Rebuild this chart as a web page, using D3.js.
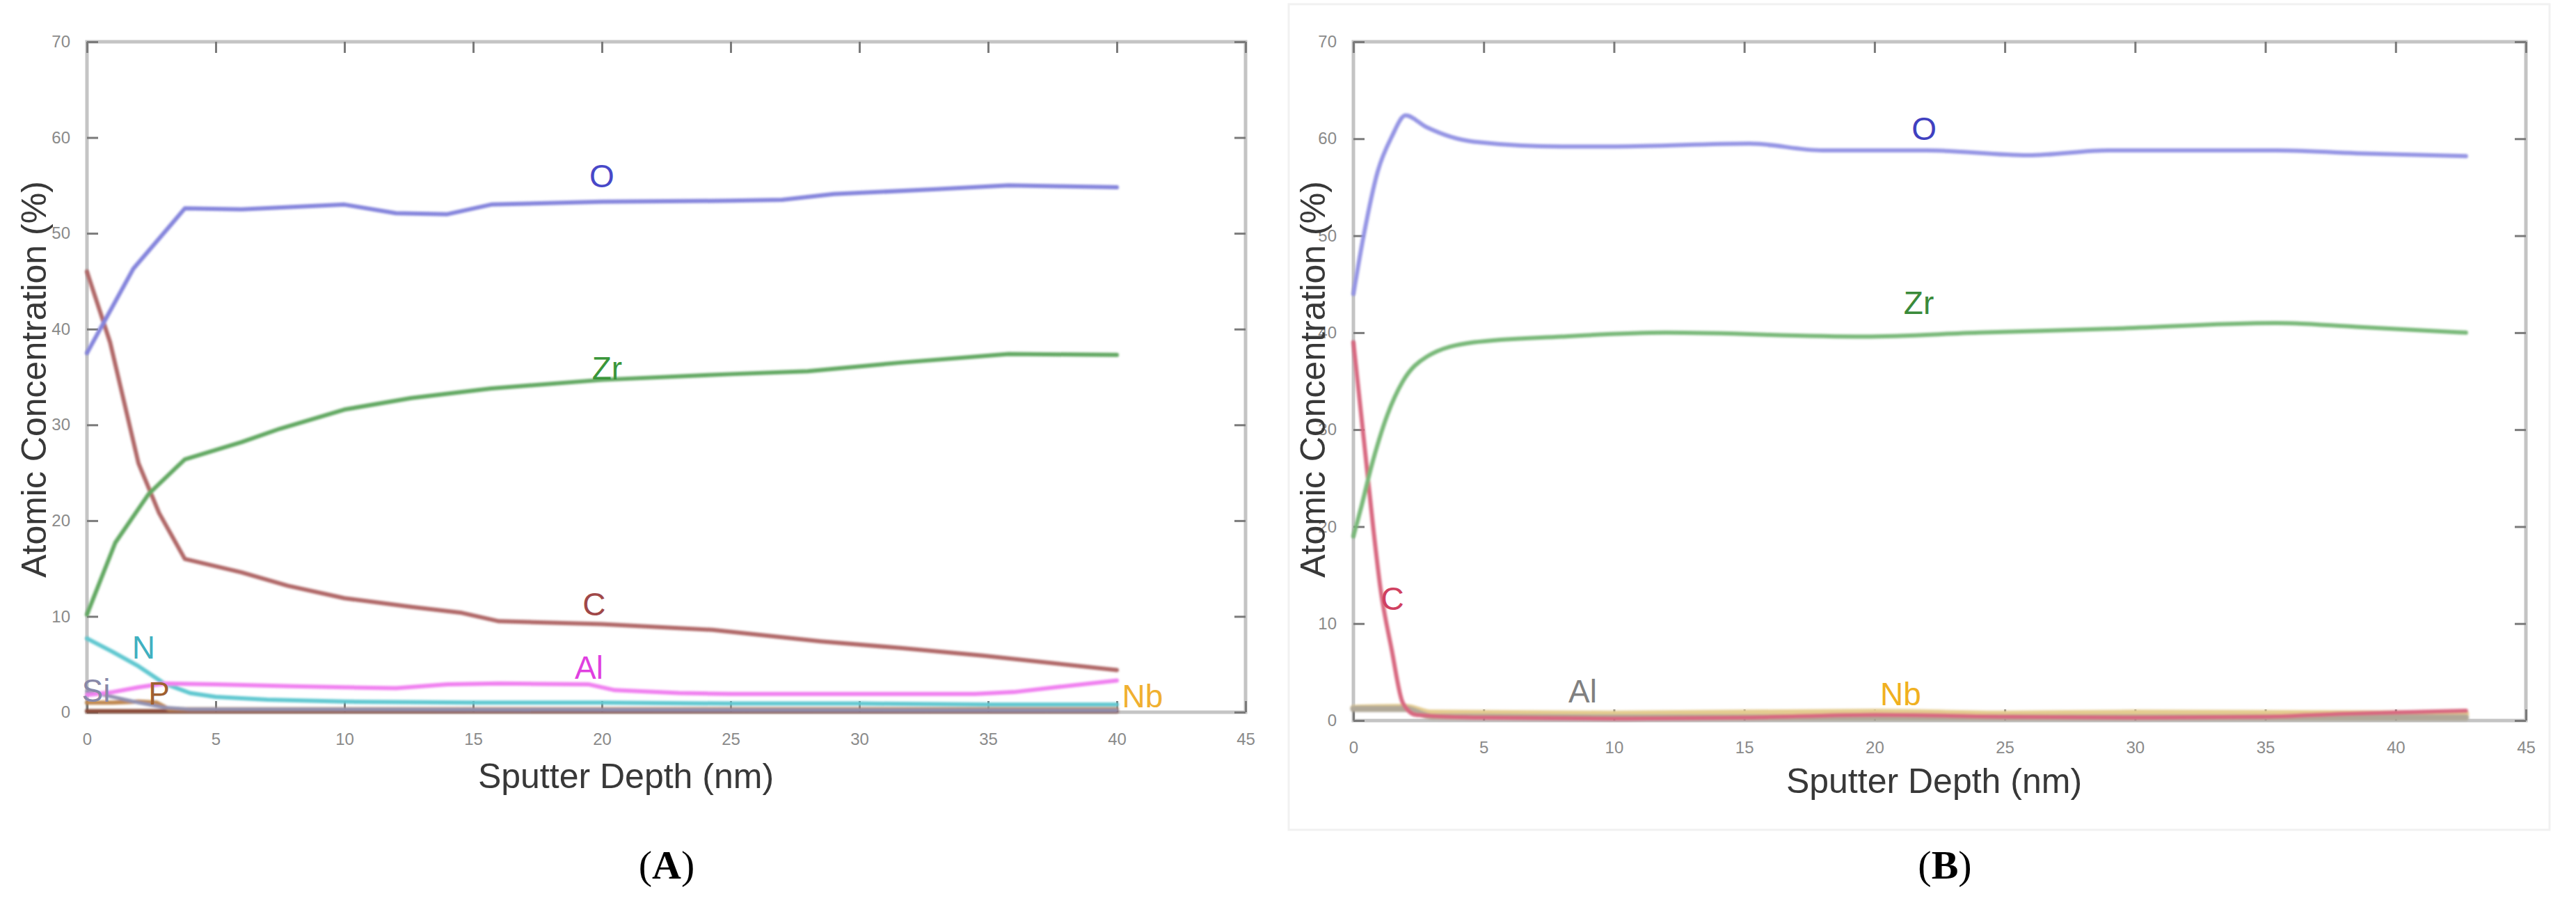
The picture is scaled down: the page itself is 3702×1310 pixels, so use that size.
<!DOCTYPE html>
<html><head><meta charset="utf-8">
<script src="https://cdn.jsdelivr.net/npm/d3@7"></script>
<style>body{margin:0;background:#fff}svg{display:block}</style>
</head><body><svg id="chart" width="3702" height="1310"></svg>
<script>
// ---------- DATA ----------
const xTickValues = [0, 5, 10, 15, 20, 25, 30, 35, 40, 45];
const yTickValues = [0, 10, 20, 30, 40, 50, 60, 70];
const xTitle = "Sputter Depth (nm)";
const yTitle = "Atomic Concentration (%)";
const captions = ["(A)", "(B)"];

// Panel A
const A_O_depth  = [0, 1.8, 3.8, 6, 10, 12, 14, 15.7, 20, 25, 27, 29, 33, 35.8, 40];
const A_O_value  = [37.5, 46.3, 52.6, 52.5, 53, 52.1, 52.0, 53, 53.3, 53.4, 53.5, 54.1, 54.6, 55, 54.8];
const A_Zr_depth = [0, 1.1, 2.4, 3.8, 6, 7.5, 10, 12.6, 15.7, 20, 25, 28, 31.6, 35.8, 40];
const A_Zr_value = [10.2, 17.7, 22.8, 26.4, 28.2, 29.6, 31.6, 32.8, 33.8, 34.7, 35.3, 35.6, 36.5, 37.4, 37.3];
const A_C_depth  = [0, 0.9, 2, 2.8, 3.8, 6, 7.8, 10, 12.6, 14.5, 16, 20, 24.3, 28.5, 31.6, 34.8, 40];
const A_C_value  = [46, 38.6, 26, 20.8, 16, 14.6, 13.2, 11.9, 11, 10.4, 9.5, 9.2, 8.6, 7.4, 6.7, 5.9, 4.4];
const A_Al_depth = [0, 1, 2, 3, 5, 8, 10, 12, 14, 16, 19.5, 20.5, 23, 25, 30, 34.5, 36, 37.6, 40];
const A_Al_value = [1.8, 2.1, 2.6, 3.0, 2.9, 2.7, 2.6, 2.5, 2.9, 3.0, 2.9, 2.3, 2.0, 1.9, 1.9, 1.9, 2.1, 2.6, 3.3];
const A_N_depth  = [0, 1, 2, 3, 4, 5, 7, 10, 15, 20, 25, 30, 35, 40];
const A_N_value  = [7.7, 6.3, 4.8, 3.0, 2.0, 1.6, 1.3, 1.1, 1.0, 1.0, 0.9, 0.9, 0.8, 0.8];
const A_Si_depth = [0, 1, 2, 3, 4, 40];
const A_Si_value = [2.2, 1.6, 1.0, 0.5, 0.3, 0.2];
const A_P_depth  = [0, 1, 2, 2.7, 3.2, 40];
const A_P_value  = [1.0, 1.0, 1.1, 1.0, 0.3, 0.3];
const A_Nb_depth = [0, 10, 20, 30, 40];
const A_Nb_value = [0.1, 0.1, 0.1, 0.1, 0.1];

// Panel B
const B_O_depth  = [0, 0.4, 0.93, 1.47, 2.0, 2.8, 4.6, 8, 10.1, 15.2, 18, 22, 25.9, 29, 35.4, 38.5, 42.7];
const B_O_value  = [44, 50.1, 56.6, 60.2, 62.4, 61.2, 59.7, 59.2, 59.2, 59.5, 58.8, 58.8, 58.3, 58.8, 58.8, 58.5, 58.2];
const B_Zr_depth = [0, 0.3, 0.67, 1.3, 1.9, 2.8, 4.6, 8, 12, 19.6, 24, 29, 35.4, 38.5, 42.7];
const B_Zr_value = [19, 22, 26, 31.5, 35, 37.5, 39, 39.6, 40, 39.6, 40, 40.4, 41, 40.6, 40];
const B_C_depth  = [0, 0.4, 0.76, 1.03, 1.47, 1.9, 2.4, 5, 10, 15, 20, 25, 30, 35, 38, 42.7];
const B_C_value  = [39, 29, 19.9, 13.8, 7.3, 1.8, 0.6, 0.3, 0.2, 0.3, 0.6, 0.4, 0.3, 0.4, 0.7, 1.0];
const B_Al_depth = [0, 2, 3, 10, 20, 30, 42.7];
const B_Al_value = [1.2, 1.2, 0.4, 0.3, 0.3, 0.3, 0.3];
const B_Nb_depth = [0, 2, 3, 10, 20, 25, 30, 42.7];
const B_Nb_value = [1.3, 1.4, 0.8, 0.7, 0.9, 0.7, 0.8, 0.7];

// ---------- STYLE / LAYOUT ----------
const seriesStyle = {
  A: {
    Nb: {line: "#8a4a38", w: 6}, P: {line: "#c08850", w: 6}, Si: {line: "#9090b0", w: 5},
    N: {line: "#60c8d0", w: 6}, Al: {line: "#f080f0", w: 6}, C: {line: "#b06868", w: 6},
    Zr: {line: "#62a862", w: 6}, O: {line: "#8484dc", w: 6}
  },
  B: {
    Nb: {line: "#e4cc90", w: 9}, Al: {line: "#b0a898", w: 9}, C: {line: "#d86880", w: 6},
    Zr: {line: "#78b878", w: 6}, O: {line: "#9494e4", w: 6}
  }
};
const labelStyle = {
  A: [
    {t: "O",  d: 20.0, v: 56.0, c: "#4848c8"},
    {t: "Zr", d: 20.2, v: 35.9, c: "#3a963a"},
    {t: "C",  d: 19.7, v: 11.3, c: "#a04848"},
    {t: "Al", d: 19.5, v: 4.65, c: "#e040e0"},
    {t: "N",  d: 2.2,  v: 6.8,  c: "#40b0c0"},
    {t: "Si", d: 0.35, v: 2.25, c: "#8888a8"},
    {t: "P",  d: 2.8,  v: 1.96, c: "#a06030"},
    {t: "Nb", d: 41.0, v: 1.7,  c: "#f0b030"}
  ],
  B: [
    {t: "O",  d: 21.9, v: 61.0, c: "#4040c0"},
    {t: "Zr", d: 21.7, v: 43.1, c: "#3a8a3a"},
    {t: "C",  d: 1.5,  v: 12.6, c: "#d04060"},
    {t: "Al", d: 8.8,  v: 3.0,  c: "#808080"},
    {t: "Nb", d: 21.0, v: 2.7,  c: "#f0b020"}
  ]
};
const panels = [
  {key: "A", x0: 125, x1: 1790, y0: 1023, y1: 60, ytX: 48, ytY: 545, xtY: 1132, capX: 958, capY: 1262,
   xDomainMax: 45,
   series: [["Nb", A_Nb_depth, A_Nb_value], ["P", A_P_depth, A_P_value], ["Si", A_Si_depth, A_Si_value],
            ["N", A_N_depth, A_N_value], ["Al", A_Al_depth, A_Al_value], ["C", A_C_depth, A_C_value],
            ["Zr", A_Zr_depth, A_Zr_value], ["O", A_O_depth, A_O_value]], curve: d3.curveLinear},
  {key: "B", x0: 1945, x1: 3630, y0: 1035, y1: 60, ytX: 1886, ytY: 545, xtY: 1139, capX: 2795, capY: 1262,
   xDomainMax: 45,
   series: [["Nb", B_Nb_depth, B_Nb_value], ["Al", B_Al_depth, B_Al_value], ["C", B_C_depth, B_C_value],
            ["Zr", B_Zr_depth, B_Zr_value], ["O", B_O_depth, B_O_value]], curve: d3.curveMonotoneX}
];

const svg = d3.select("#chart");
svg.append("rect").attr("width", 3702).attr("height", 1310).attr("fill", "#fff");
// faint frame around panel B image
svg.append("rect").attr("x", 1852).attr("y", 6).attr("width", 1812).attr("height", 1186)
  .attr("fill", "none").attr("stroke", "#f1f1f1").attr("stroke-width", 3);

const defs = svg.append("defs");
defs.append("filter").attr("id", "soft").attr("x", "-5%").attr("y", "-5%").attr("width", "110%").attr("height", "110%")
  .append("feGaussianBlur").attr("stdDeviation", 1.4);

panels.forEach(p => {
  const x = d3.scaleLinear().domain([0, p.xDomainMax]).range([p.x0, p.x1]);
  const y = d3.scaleLinear().domain([0, 70]).range([p.y0, p.y1]);
  const g = svg.append("g");

  // frame
  g.append("rect").attr("x", p.x0).attr("y", p.y1).attr("width", p.x1 - p.x0).attr("height", p.y0 - p.y1)
    .attr("fill", "none").attr("stroke", "#c4c4c4").attr("stroke-width", 5);

  const tickLen = 16;
  const styleAxis = sel => {
    sel.select(".domain").remove();
    sel.selectAll(".tick line").attr("stroke", "#7a7a7a").attr("stroke-width", 3);
    sel.selectAll(".tick text").attr("fill", "#8a8a8a").attr("font-size", 24)
      .attr("font-family", "Liberation Sans, Arial, sans-serif");
  };
  g.append("g").attr("transform", `translate(0,${p.y0})`)
    .call(d3.axisBottom(x).tickValues(xTickValues).tickSizeInner(-tickLen).tickSizeOuter(0).tickPadding(tickLen + 14).tickFormat(d3.format("d")))
    .call(styleAxis);
  g.append("g").attr("transform", `translate(0,${p.y1})`)
    .call(d3.axisTop(x).tickValues(xTickValues).tickSizeInner(-tickLen).tickSizeOuter(0).tickFormat(""))
    .call(styleAxis);
  g.append("g").attr("transform", `translate(${p.x0},0)`)
    .call(d3.axisLeft(y).tickValues(yTickValues).tickSizeInner(-tickLen).tickSizeOuter(0).tickPadding(tickLen + 8).tickFormat(d3.format("d")))
    .call(styleAxis);
  g.append("g").attr("transform", `translate(${p.x1},0)`)
    .call(d3.axisRight(y).tickValues(yTickValues).tickSizeInner(-tickLen).tickSizeOuter(0).tickFormat(""))
    .call(styleAxis);

  // lines
  const lg = g.append("g").attr("filter", "url(#soft)");
  p.series.forEach(([name, dep, val]) => {
    const pts = dep.map((d, i) => [d, val[i]]);
    const st = seriesStyle[p.key][name];
    lg.append("path").datum(pts)
      .attr("fill", "none").attr("stroke", st.line)
      .attr("stroke-width", st.w).attr("stroke-linejoin", "round").attr("stroke-linecap", "round")
      .attr("d", d3.line().x(d => x(d[0])).y(d => y(d[1])).curve(p.curve));
  });

  // labels
  labelStyle[p.key].forEach(l => {
    g.append("text").attr("x", x(l.d)).attr("y", y(l.v)).attr("dy", "0.35em")
      .attr("text-anchor", "middle").attr("fill", l.c).attr("font-size", 46)
      .attr("font-family", "Liberation Sans, Arial, sans-serif").text(l.t);
  });

  // axis titles
  g.append("text").attr("x", (p.x0 + p.x1) / 2 - (p.key === "A" ? 58 : 8)).attr("y", p.xtY)
    .attr("text-anchor", "middle").attr("font-size", 50).attr("fill", "#383838")
    .attr("font-family", "Liberation Sans, Arial, sans-serif").text(xTitle);
  g.append("text").attr("transform", `translate(${p.ytX},${p.ytY}) rotate(-90)`).attr("dy", "0.35em")
    .attr("text-anchor", "middle").attr("font-size", 50).attr("fill", "#383838")
    .attr("font-family", "Liberation Sans, Arial, sans-serif").text(yTitle);

  // caption
  const cap = svg.append("text").attr("x", p.capX).attr("y", p.capY).attr("text-anchor", "middle")
    .attr("font-size", 58).attr("fill", "#000").attr("font-family", "Liberation Serif, Times New Roman, serif");
  const ct = captions[p.key === "A" ? 0 : 1];
  cap.append("tspan").text(ct[0]);
  cap.append("tspan").attr("font-weight", "bold").text(ct.slice(1, -1));
  cap.append("tspan").text(ct[ct.length - 1]);
});
</script></body></html>
